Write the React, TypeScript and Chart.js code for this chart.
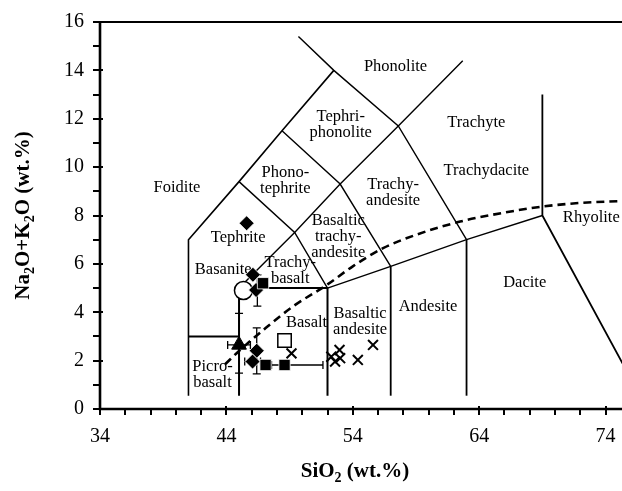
import { useEffect, useRef } from 'react';
import { Chart, registerables } from 'chart.js';
Chart.register(...registerables);

// ---------- axes ----------
const xMin = 34;
const xMax = 75.3;
const yMin = 0;
const yMax = 16;
const xTickValues = [34, 44, 54, 64, 74];
const yTickValues = [0, 2, 4, 6, 8, 10, 12, 14, 16];

// ---------- TAS field boundaries (SiO2, Na2O+K2O) ----------
const bndFoidite = [[41, 0.55], [41, 7], [45, 9.4], [48.4, 11.5], [52.5, 14]];
const bndPicro = [[41, 3], [45, 3]];
const bndBasalt = [[45, 0.55], [45, 5], [52, 5], [52, 0.55]];
const bndTrachybasalt = [[45, 5], [49.4, 7.3], [53, 9.3], [57.6, 11.7], [62.7, 14.4]];
const bndTephrite = [[45, 9.4], [49.4, 7.3], [52, 5]];
const bndPhonotephrite = [[48.4, 11.5], [53, 9.3], [57, 5.9]];
const bndPhonolite = [[49.7, 15.4], [52.5, 14], [57.6, 11.7], [63, 7]];
const bndSubalkaline = [[52, 5], [57, 5.9], [63, 7], [69, 8]];
const bndAndesite = [[57, 0.55], [57, 5.9]];
const bndDacite = [[63, 0.55], [63, 7]];
const bndRhyolite = [[69, 13], [69, 8], [77.3, 0]];

// alkaline / subalkaline divide (dashed)
const alkalineDivide = [
  [43.9, 1.85], [45, 2.4], [47, 3.3], [49.3, 4.25], [52, 5.15], [54, 5.9],
  [56.4, 6.65], [59, 7.2], [62.5, 7.75], [66, 8.12], [69, 8.37], [72, 8.52], [75.3, 8.6],
];

// ---------- samples ----------
const filledDiamonds = [[45.6, 7.68], [46.35, 4.92], [46.1, 5.55], [46.4, 2.41], [46.07, 1.96]];
const filledSquares = [[46.9, 5.2], [47.1, 1.82], [48.6, 1.82]];
const openCircles = [[45.35, 4.9]];
const openSquares = [[48.6, 2.83]];
const filledTriangles = [[45.0, 2.65]];
const crosses = [[49.15, 2.3], [52.3, 2.16], [52.6, 1.96], [52.95, 2.44], [53.0, 2.1], [54.4, 2.03], [55.6, 2.65]];

// error bars: horizontal [y, xLow, xHigh]; vertical [x, yLow, yHigh]
const errorBarsX = [[2.65, 44.1, 45.9], [1.82, 47.57, 51.64], [1.96, 45.45, 46.7]];
const errorBarsY = [[45.0, 1.48, 3.95], [46.4, 1.45, 3.35], [46.45, 4.25, 5.55]];

// ---------- field names [text lines, SiO2, Na2O+K2O of first line] ----------
const fieldNames: [string[], number, number][] = [
  [['Foidite'], 40.09, 9.14],
  [['Tephrite'], 44.93, 7.09],
  [['Phono-', 'tephrite'], 48.66, 9.79],
  [['Tephri-', 'phonolite'], 53.05, 12.07],
  [['Phonolite'], 57.38, 14.16],
  [['Trachyte'], 63.78, 11.82],
  [['Trachydacite'], 64.57, 9.85],
  [['Trachy-', 'andesite'], 57.19, 9.27],
  [['Basaltic', 'trachy-', 'andesite'], 52.85, 7.79],
  [['Basanite'], 43.75, 5.78],
  [['Trachy-', 'basalt'], 49.05, 6.04],
  [['Basalt'], 50.34, 3.55],
  [['Basaltic', 'andesite'], 54.58, 3.93],
  [['Andesite'], 59.95, 4.21],
  [['Dacite'], 67.6, 5.21],
  [['Rhyolite'], 72.87, 7.89],
  [['Picro-', 'basalt'], 42.9, 1.75],
];

const FONT = "'Liberation Serif', 'Times New Roman', serif";

const toXY = (pts: number[][]) => pts.map(([x, y]) => ({ x, y }));

const boundary = (pts: number[][], w: number) => ({
  data: toXY(pts),
  showLine: true,
  borderColor: '#000',
  borderWidth: w,
  pointRadius: 0,
  pointHoverRadius: 0,
  tension: 0,
  fill: false,
  order: 20,
});

const marker = (pts: number[][], style: string, r: number, bg: string, border: string, bw: number, order: number) => ({
  data: toXY(pts),
  showLine: false,
  pointStyle: style,
  pointRadius: r,
  pointHoverRadius: r,
  pointBackgroundColor: bg,
  pointBorderColor: border,
  pointBorderWidth: bw,
  order,
});

const drawSubText = (ctx: CanvasRenderingContext2D, parts: [string, boolean][], cx: number, cy: number, size: number) => {
  const big = `bold ${size}px ${FONT}`;
  const small = `bold ${Math.round(size * 0.65)}px ${FONT}`;
  let total = 0;
  for (const [t, sub] of parts) {
    ctx.font = sub ? small : big;
    total += ctx.measureText(t).width;
  }
  let x = cx - total / 2;
  ctx.textAlign = 'left';
  ctx.textBaseline = 'alphabetic';
  for (const [t, sub] of parts) {
    ctx.font = sub ? small : big;
    ctx.fillText(t, x, cy + (sub ? size * 0.25 : 0));
    x += ctx.measureText(t).width;
  }
};

const tasPlugin = {
  id: 'tasDecor',
  beforeDatasetsDraw(chart: any) {
    const { ctx, scales } = chart;
    const xs = scales.x;
    const ys = scales.y;
    ctx.save();
    ctx.fillStyle = '#000';
    ctx.font = `16.5px ${FONT}`;
    ctx.textAlign = 'center';
    ctx.textBaseline = 'middle';
    const lh = 16;
    for (const [lines, vx, vy] of fieldNames) {
      const px = xs.getPixelForValue(vx);
      const py = ys.getPixelForValue(vy);
      lines.forEach((t, i) => ctx.fillText(t, px, py + i * lh));
    }
    // error bars
    ctx.strokeStyle = '#000';
    ctx.lineWidth = 1.3;
    const cap = 4;
    ctx.beginPath();
    for (const [vy, lo, hi] of errorBarsX) {
      const py = ys.getPixelForValue(vy);
      const a = xs.getPixelForValue(lo);
      const b = xs.getPixelForValue(hi);
      ctx.moveTo(a, py); ctx.lineTo(b, py);
      ctx.moveTo(a, py - cap); ctx.lineTo(a, py + cap);
      ctx.moveTo(b, py - cap); ctx.lineTo(b, py + cap);
    }
    for (const [vx, lo, hi] of errorBarsY) {
      const px = xs.getPixelForValue(vx);
      const a = ys.getPixelForValue(lo);
      const b = ys.getPixelForValue(hi);
      ctx.moveTo(px, a); ctx.lineTo(px, b);
      ctx.moveTo(px - cap, a); ctx.lineTo(px + cap, a);
      ctx.moveTo(px - cap, b); ctx.lineTo(px + cap, b);
    }
    ctx.stroke();
    ctx.restore();
  },
  afterDraw(chart: any) {
    const { ctx, chartArea, scales } = chart;
    const { left, right, top, bottom } = chartArea;
    const xs = scales.x;
    const ys = scales.y;
    ctx.save();
    ctx.strokeStyle = '#000';
    ctx.lineCap = 'butt';
    // top border
    ctx.lineWidth = 1.8;
    ctx.beginPath();
    ctx.moveTo(left, top);
    ctx.lineTo(right, top);
    ctx.stroke();
    // axes
    ctx.lineWidth = 2.6;
    ctx.beginPath();
    ctx.moveTo(left, top - 1);
    ctx.lineTo(left, bottom);
    ctx.lineTo(right, bottom);
    ctx.stroke();
    // ticks
    ctx.lineWidth = 2;
    ctx.beginPath();
    for (let v = xMin; v <= 74.001; v += 2) {
      const px = Math.round(xs.getPixelForValue(v));
      const major = xTickValues.includes(Math.round(v));
      ctx.moveTo(px, bottom - (major ? 3 : 0));
      ctx.lineTo(px, bottom + 6);
    }
    for (let v = yMin; v <= yMax; v += 1) {
      const py = Math.round(ys.getPixelForValue(v));
      const major = v % 2 === 0;
      ctx.moveTo(left - 7, py);
      ctx.lineTo(left + (major ? 3 : 0), py);
    }
    ctx.stroke();
    // axis titles
    ctx.fillStyle = '#000';
    drawSubText(ctx, [['SiO', false], ['2', true], [' (wt.%)', false]], 355, 477, 21);
    ctx.save();
    ctx.translate(29, (top + bottom) / 2);
    ctx.rotate(-Math.PI / 2);
    drawSubText(ctx, [['Na', false], ['2', true], ['O+K', false], ['2', true], ['O (wt.%)', false]], 0, 0, 21);
    ctx.restore();
    ctx.restore();
  },
};

export default function App() {
  const ref = useRef<HTMLCanvasElement | null>(null);
  useEffect(() => {
    document.body.style.margin = '0';
    const canvas = ref.current;
    if (!canvas) return;
    const chart = new Chart(canvas, {
      type: 'scatter',
      data: {
        datasets: [
          boundary(bndFoidite, 1.6),
          boundary(bndPicro, 2),
          boundary(bndBasalt, 2),
          boundary(bndTrachybasalt, 1.4),
          boundary(bndTephrite, 1.4),
          boundary(bndPhonotephrite, 1.4),
          boundary(bndPhonolite, 1.4),
          boundary(bndSubalkaline, 1.4),
          boundary(bndAndesite, 1.8),
          boundary(bndDacite, 1.8),
          boundary(bndRhyolite, 1.8),
          {
            data: toXY(alkalineDivide),
            showLine: true,
            borderColor: '#000',
            borderWidth: 2.6,
            borderDash: [8, 5],
            pointRadius: 0,
            pointHoverRadius: 0,
            cubicInterpolationMode: 'monotone',
            fill: false,
            order: 15,
          },
          marker(openCircles, 'circle', 9, '#fff', '#000', 1.5, 8),
          marker(filledDiamonds, 'rectRot', 7.5, '#000', '#fff', 0.8, 6),
          marker(filledSquares, 'rect', 8, '#000', '#fff', 0.8, 4),
          marker(openSquares, 'rect', 9.5, '#fff', '#000', 1.5, 5),
          marker(filledTriangles, 'triangle', 8.5, '#000', '#000', 1, 3),
          marker(crosses, 'crossRot', 7, '#000', '#000', 2, 2),
        ] as any,
      },
      options: {
        responsive: false,
        animation: false,
        devicePixelRatio: 1,
        layout: { autoPadding: false, padding: { top: 22, left: 0, right: 0, bottom: 0 } },
        plugins: { legend: { display: false }, tooltip: { enabled: false } },
        events: [],
        scales: {
          x: {
            type: 'linear',
            min: xMin,
            max: xMax,
            grid: { display: false, drawTicks: false },
            border: { display: false },
            afterBuildTicks: (s: any) => { s.ticks = xTickValues.map((v) => ({ value: v })); },
            afterFit: (s: any) => { s.height = 82; s.paddingLeft = 0; s.paddingRight = 0; },
            ticks: { color: '#000', font: { family: FONT, size: 20 }, padding: 16, maxRotation: 0, autoSkip: false },
          },
          y: {
            type: 'linear',
            min: yMin,
            max: yMax,
            grid: { display: false, drawTicks: false },
            border: { display: false },
            afterBuildTicks: (s: any) => { s.ticks = yTickValues.map((v) => ({ value: v })); },
            afterFit: (s: any) => { s.width = 100; s.paddingTop = 0; s.paddingBottom = 0; },
            ticks: { color: '#000', font: { family: FONT, size: 20 }, padding: 16, autoSkip: false },
          },
        },
      } as any,
      plugins: [tasPlugin],
    });
    return () => chart.destroy();
  }, []);
  return (
    <div style={{ width: 622, height: 491 }}>
      <canvas ref={ref} width={622} height={491} style={{ display: 'block' }} />
    </div>
  );
}
